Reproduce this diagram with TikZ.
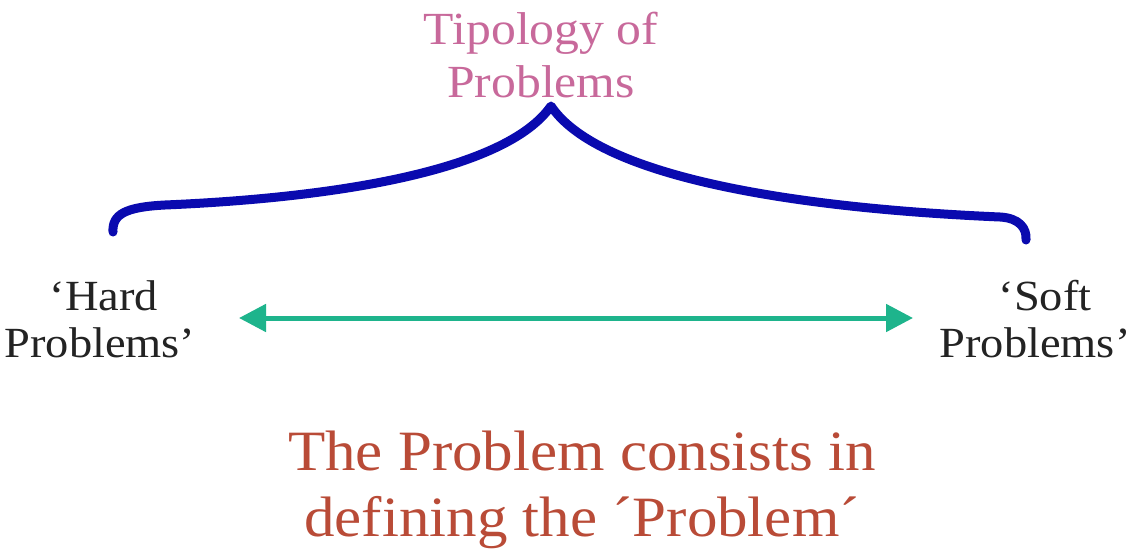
\documentclass[tikz,border=0pt]{standalone}
\usepackage{fontspec}
\setmainfont{Liberation Serif}
\newfontfamily\stfont[FakeStretch=1.08]{Liberation Serif}
\newfontfamily\btfont[FakeStretch=1.07]{Liberation Serif}
\usetikzlibrary{arrows.meta}
\definecolor{titlepink}{RGB}{200,105,155}
\definecolor{braceblue}{RGB}{10,10,175}
\definecolor{arrowgreen}{RGB}{30,180,140}
\definecolor{labelgray}{RGB}{35,35,35}
\definecolor{bottomred}{RGB}{185,75,55}
\tikzset{
  txt/.style={inner sep=0pt, anchor=base},
  ttl/.style={txt, text=titlepink, font=\stfont\fontsize{46}{52}\selectfont},
  lbl/.style={txt, text=labelgray, font=\stfont\fontsize{43}{47}\selectfont},
  btm/.style={txt, text=bottomred, font=\btfont\fontsize{57}{65}\selectfont},
  brace/.style={draw=braceblue, line width=9pt, line cap=round, line join=round},
  dblarrow/.style={draw=arrowgreen, line width=5pt, {Triangle[length=27pt,width=27pt]}-{Triangle[length=27pt,width=27pt]}}
}
\begin{document}
\begin{tikzpicture}[x=1pt,y=-1pt]
\useasboundingbox[fill=white] (0,0) rectangle (1142,551);
% title
\node[ttl] (t1) at (541,45) {Tipology of};
\node[ttl] (t2) at (541,97) {Problems};
% brace
\coordinate (peak) at (551,106);
\coordinate (lend) at (113,232);
\coordinate (rend) at (1026,240);
\path[brace] (lend) .. controls (112,214) and (126,207) .. (165,205)
  .. controls (330,198) and (505,172) .. (peak)
  .. controls (595,172) and (770,207) .. (1000,217)
  .. controls (1019,218) and (1027,228) .. (rend);
% side labels
\node[lbl] (h1) at (104,310) {‘Hard};
\node[lbl] (h2) at (100,357) {Problems’};
\node[lbl] (s1) at (1045,310) {‘Soft};
\node[lbl] (s2) at (1035,357) {Problems’};
% arrow
\coordinate (atl) at (239,318);
\coordinate (atr) at (913,318);
\path[dblarrow] (atl) -- (atr);
% bottom text
\node[btm] (b1) at (582,470) {The Problem consists in};
\node[btm] (b2) at (582,536) {defining the ´Problem´};
\end{tikzpicture}
\end{document}
